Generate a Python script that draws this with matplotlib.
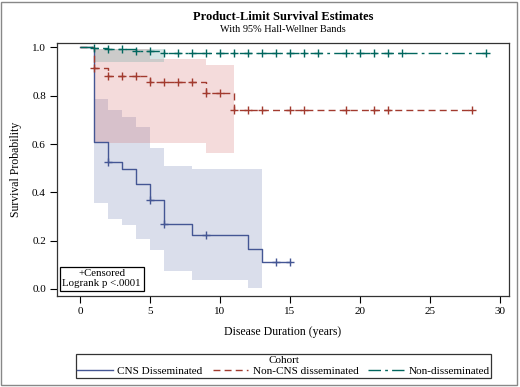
import numpy as np
import matplotlib
matplotlib.use("Agg")
import matplotlib.pyplot as plt
from matplotlib.patches import Rectangle
from matplotlib.lines import Line2D

plt.rcParams['font.family'] = ['Liberation Serif', 'DejaVu Serif']

# ---------------- data ----------------
cohorts = ["CNS Disseminated", "Non-CNS disseminated", "Non-disseminated"]

cns_t = [0, 1, 2, 3, 4, 5, 6, 8, 12, 13, 15]
cns_s = [1.0, 0.61, 0.525, 0.497, 0.435, 0.37, 0.268, 0.223, 0.165, 0.111, 0.111]
cns_cens = [2, 5, 6, 9, 14, 15]
cns_band_t = [1, 2, 3, 4, 5, 6, 8, 12, 13]
cns_band_hi = [0.786, 0.742, 0.71, 0.67, 0.582, 0.509, 0.496, 0.496]
cns_band_lo = [0.356, 0.29, 0.263, 0.208, 0.16, 0.073, 0.037, 0.004]

red_t = [0, 1, 2, 5, 9, 11, 28]
red_s = [1.0, 0.914, 0.882, 0.858, 0.813, 0.739, 0.739]
red_cens = [1, 2, 3, 4, 5, 6, 7, 8, 9, 10, 11, 12, 13, 15, 16, 19, 21, 22, 28]
red_band_t = [1, 5, 9, 11]
red_band_hi = [0.995, 0.951, 0.927]
red_band_lo = [0.605, 0.605, 0.562]

grn_t = [0, 1, 2, 4, 6, 29]
grn_s = [1.0, 0.996, 0.992, 0.986, 0.978, 0.978]
grn_cens = [1, 2, 3, 4, 5, 6, 7, 8, 9, 10, 11, 12, 13, 14, 15, 16, 17,
            19, 20, 21, 22, 23, 29]
grn_band_t = [1, 6]
grn_band_hi = [0.995]
grn_band_lo = [0.94]

xticks = [0, 5, 10, 15, 20, 25, 30]
yticks = [0.0, 0.2, 0.4, 0.6, 0.8, 1.0]

# ---------------- style ----------------
line_cols = ["#445694", "#A23A2E", "#01665E"]
band_cols = ["#6F7EB3", "#D05B5B", "#66A5A0"]
band_alpha = [0.25, 0.22, 0.28]
styles = ["-", (0, (5, 3)), (0, (9, 3, 2, 3))]

fig = plt.figure(figsize=(5.2, 3.87), dpi=100)
ax = fig.add_axes([57/520, 1-296/387, 452/520, 253/387])

series = [
    (cns_t, cns_s, cns_cens, cns_band_t, cns_band_lo, cns_band_hi),
    (red_t, red_s, red_cens, red_band_t, red_band_lo, red_band_hi),
    (grn_t, grn_s, grn_cens, grn_band_t, grn_band_lo, grn_band_hi),
]

# bands first
for i, (t, s, c, bt, lo, hi) in enumerate(series):
    lo2 = list(lo) + [lo[-1]]
    hi2 = list(hi) + [hi[-1]]
    ax.fill_between(bt, lo2, hi2, step="post", color=band_cols[i],
                    alpha=band_alpha[i], linewidth=0, zorder=1)

handles = []
for i, (t, s, c, bt, lo, hi) in enumerate(series):
    ax.step(t, s, where="post", color=line_cols[i], linestyle=styles[i],
            linewidth=1.0, zorder=3)
    t_arr = np.array(t)
    s_arr = np.array(s)
    idx = np.searchsorted(t_arr, np.array(c), side="right") - 1
    ax.plot(c, s_arr[idx], linestyle="none", marker="+", markersize=5.5,
            markeredgewidth=1.0, color=line_cols[i], zorder=4)
    handles.append(Line2D([], [], color=line_cols[i], linestyle=styles[i],
                          linewidth=1.0))

ax.set_xlim(-1.64, 30.64)
ax.set_ylim(-0.029, 1.018)
ax.set_xticks(xticks)
ax.set_xticklabels([str(v) for v in xticks])
ax.set_yticks(yticks)
ax.set_yticklabels([f"{v:.1f}" for v in yticks])
ax.tick_params(direction="out", length=5, width=0.8, labelsize=8,
               colors="black", pad=3)
for sp in ax.spines.values():
    sp.set_linewidth(0.9)
    sp.set_color("#333333")

ax.set_xlabel("Disease Duration (years)", fontsize=8.5, labelpad=7)
ax.set_ylabel("Survival Probability", fontsize=8.5, labelpad=7)

ax.text(0.099, 0.068, "+Censored\nLogrank p <.0001", transform=ax.transAxes,
        ha="center", va="center", fontsize=7.8, linespacing=1.1, zorder=5,
        bbox=dict(boxstyle="square,pad=0.25", facecolor="white",
                  edgecolor="black", linewidth=0.9))

fig.text(0.5437, 1-17/387, "Product-Limit Survival Estimates",
         ha="center", va="center", fontsize=9, fontweight="bold")
fig.text(0.5437, 1-29/387, "With 95% Hall-Wellner Bands",
         ha="center", va="center", fontsize=7.4)

leg = fig.legend(handles, cohorts, loc="center", ncol=3,
                 bbox_to_anchor=(283.5/520, 1-366/387), title="Cohort",
                 fontsize=8.0, title_fontsize=8.0, handlelength=3.2,
                 handletextpad=0.4, columnspacing=0.9, frameon=True,
                 fancybox=False, borderpad=0.15, labelspacing=0.1,
                 borderaxespad=0)
leg.get_frame().set_edgecolor("black")
leg.get_frame().set_linewidth(0.9)
leg._legend_box.sep = 1

fig.patches.append(Rectangle((1/520, 2/387), 516/520, 383/387,
                             transform=fig.transFigure, fill=False,
                             edgecolor="#888888", linewidth=1.0))

fig.savefig("out.png", dpi=100)
